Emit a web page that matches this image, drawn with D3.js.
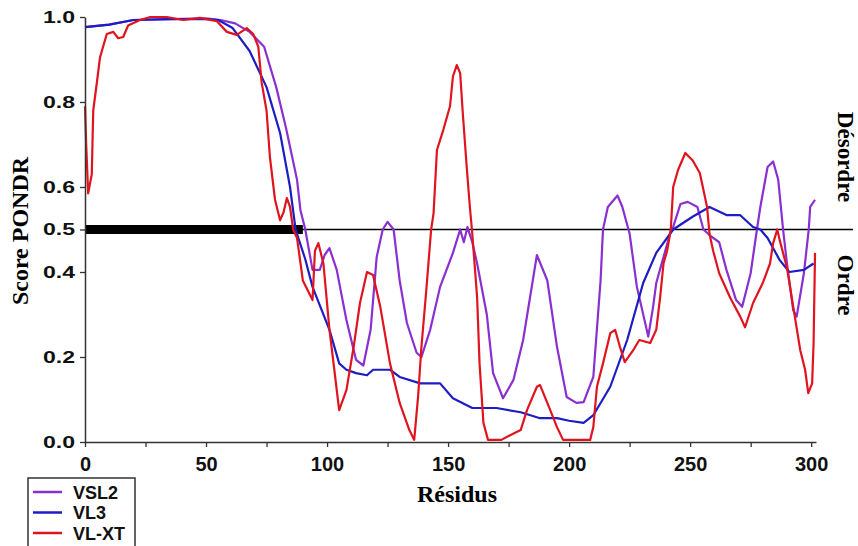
<!DOCTYPE html>
<html>
<head>
<meta charset="utf-8">
<script src="https://cdn.jsdelivr.net/npm/d3@7"></script>
<style>
  body { margin: 0; background: #fff; }
  svg { display: block; }
</style>
</head>
<body>
<div id="chart"></div>
<script>
// data: [residue, score]
const vsl2 = [[0,0.976],[10,0.982],[20,0.993],[35,0.995],[50,0.997],[56,0.993],[62,0.985],[68,0.965],[74,0.93],[79,0.835],[83,0.74],[87.6,0.617],[89,0.546],[91,0.5],[94,0.405],[97,0.405],[99,0.44],[101,0.456],[104,0.405],[108,0.287],[112,0.193],[115,0.18],[118,0.264],[120.5,0.435],[123,0.5],[125,0.518],[127.5,0.5],[130,0.38],[133,0.28],[137,0.21],[139,0.2],[142.6,0.264],[146.7,0.365],[152,0.445],[155,0.5],[156.5,0.47],[158,0.506],[160,0.47],[162,0.42],[166,0.3],[168.6,0.162],[172.7,0.103],[177,0.146],[181,0.24],[186.7,0.44],[191,0.38],[195,0.224],[199,0.106],[203,0.092],[206,0.094],[210,0.153],[213,0.38],[214,0.5],[216,0.553],[220,0.58],[222,0.553],[225,0.49],[228,0.365],[232.7,0.248],[234.7,0.318],[236,0.374],[239,0.435],[241.7,0.49],[243,0.506],[246,0.56],[249,0.565],[253,0.553],[255.5,0.5],[258,0.487],[262,0.47],[265,0.405],[269,0.334],[271.5,0.318],[275,0.397],[277.6,0.5],[279,0.553],[282,0.647],[284.3,0.66],[286.4,0.617],[288.4,0.5],[290,0.42],[292.6,0.31],[294,0.295],[297,0.397],[299,0.5],[299.6,0.553],[301.6,0.57]];

const vl3 = [[0,0.976],[10,0.982],[20,0.993],[35,0.995],[50,0.995],[55,0.993],[61,0.974],[68,0.92],[75,0.835],[80.6,0.727],[84.7,0.6],[87,0.5],[91,0.43],[94,0.365],[101,0.264],[105,0.185],[108,0.17],[112,0.162],[116.5,0.157],[119,0.17],[126,0.17],[130,0.153],[138.5,0.138],[146.7,0.138],[152,0.103],[160,0.08],[170,0.08],[180,0.07],[188,0.056],[195,0.056],[200,0.05],[206,0.045],[210,0.063],[217,0.13],[224,0.24],[230.6,0.374],[236,0.445],[243,0.5],[251,0.53],[258,0.553],[265,0.534],[270.6,0.534],[276,0.506],[279,0.5],[282,0.48],[287,0.428],[291,0.4],[297,0.405],[301,0.42]];

const vlxt = [[0,0.79],[0.5,0.7],[1.3,0.585],[2.8,0.63],[3.4,0.78],[5,0.85],[6.2,0.905],[9,0.96],[11.7,0.965],[13.7,0.95],[15.8,0.953],[17.8,0.98],[22.7,0.993],[27,1.0],[33.8,1.0],[40.5,0.993],[47.5,0.998],[54.5,0.99],[58.6,0.965],[62.7,0.958],[66.8,0.974],[69.5,0.96],[71.6,0.93],[73,0.845],[75,0.78],[76.4,0.67],[78.5,0.57],[80.6,0.522],[82,0.54],[83.4,0.574],[84.7,0.553],[86,0.5],[87.6,0.48],[90,0.38],[94,0.334],[95,0.45],[96.4,0.468],[98.5,0.42],[101,0.264],[103,0.17],[105,0.075],[108,0.122],[111,0.224],[113.6,0.327],[116.5,0.4],[119,0.393],[122,0.318],[126,0.185],[130,0.092],[134,0.028],[136,0.005],[137.6,0.106],[139,0.224],[141,0.357],[143,0.5],[144,0.538],[145.4,0.687],[148,0.734],[150.8,0.79],[152,0.86],[153.6,0.887],[155,0.868],[156,0.78],[157.7,0.647],[159,0.553],[160,0.49],[162,0.34],[163,0.185],[164.6,0.045],[166.5,0.005],[172,0.005],[175.6,0.016],[180,0.028],[182.6,0.075],[186.7,0.13],[188,0.134],[191,0.092],[195,0.035],[197.5,0.005],[208.7,0.005],[210,0.035],[211.5,0.13],[214,0.185],[217,0.256],[219,0.264],[221,0.224],[223,0.188],[226.5,0.216],[229,0.24],[233.5,0.233],[236,0.264],[237.6,0.34],[239,0.42],[240.5,0.45],[242,0.5],[243,0.6],[245,0.64],[248,0.68],[251,0.663],[254,0.633],[257,0.553],[258,0.49],[259.5,0.45],[262,0.397],[266.5,0.34],[270.7,0.295],[272.7,0.27],[276,0.327],[280,0.374],[283,0.42],[284.3,0.468],[286,0.5],[287,0.475],[290,0.41],[292.6,0.318],[295.5,0.216],[297.5,0.17],[298.8,0.115],[300.4,0.138],[301,0.233],[301.6,0.445]];

const seriesNames = ["VSL2", "VL3", "VL-XT"];
const seriesColors = ["#8a2fd0", "#1d1dc4", "#e0141e"];
const yTicks = [0, 0.2, 0.4, 0.5, 0.6, 0.8, 1.0];
const xMajor = [0, 50, 100, 150, 200, 250, 300];
const xMinor = [25, 75, 125, 175, 225, 275];
const threshold = 0.5;
const orderedSpan = [0, 90]; // thick bar on the threshold line

const W = 858, H = 546;
const margin = { top: 17, right: 42, bottom: 104, left: 85 };
const width = W - margin.left - margin.right;
const height = H - margin.top - margin.bottom;

const svg = d3.select("#chart").append("svg")
  .attr("width", W).attr("height", H);
const g = svg.append("g")
  .attr("transform", "translate(" + margin.left + "," + margin.top + ")");

const x = d3.scaleLinear().domain([0, 302]).range([0, width]);
const y = d3.scaleLinear().domain([0, 1]).range([height, 0]);

// threshold line + thick bar
g.append("line")
  .attr("x1", x(0)).attr("x2", W - margin.left - 5)
  .attr("y1", y(threshold)).attr("y2", y(threshold))
  .attr("stroke", "#000").attr("stroke-width", 1.4);
g.append("rect")
  .attr("x", x(orderedSpan[0]))
  .attr("width", x(orderedSpan[1]) - x(orderedSpan[0]))
  .attr("y", y(threshold) - 4.5).attr("height", 9)
  .attr("fill", "#000");

// curves
const line = d3.line().x(d => x(d[0])).y(d => y(d[1]));
[vsl2, vl3, vlxt].forEach((s, i) => {
  g.append("path")
    .datum(s)
    .attr("fill", "none")
    .attr("stroke", seriesColors[i])
    .attr("stroke-width", 2.2)
    .attr("stroke-linejoin", "round")
    .attr("d", line);
});

// axes
const xAxisMinor = d3.axisBottom(x).tickValues(xMinor).tickSize(5).tickFormat("");
const xAxis = d3.axisBottom(x).tickValues(xMajor).tickSize(5).tickSizeOuter(0).tickPadding(10);
const yAxis = d3.axisLeft(y).tickValues(yTicks).tickSize(5).tickSizeOuter(0)
  .tickPadding(5).tickFormat(d3.format(".1f"));

g.append("g").attr("transform", "translate(0," + height + ")").call(xAxisMinor)
  .call(a => a.select(".domain").remove());
const gx = g.append("g").attr("transform", "translate(0," + height + ")").call(xAxis);
gx.selectAll("text")
  .style("font-family", "'Liberation Sans', Arial, sans-serif")
  .style("font-weight", "bold").style("font-size", "20px").attr("fill", "#111");

const gy = g.append("g").call(yAxis);
gy.selectAll("text")
  .style("font-family", "'Liberation Sans', Arial, sans-serif")
  .style("font-weight", "bold").style("font-size", "16px").attr("fill", "#111")
  .attr("textLength", 32).attr("lengthAdjust", "spacingAndGlyphs");

g.selectAll(".domain").attr("stroke", "#333").attr("stroke-width", 1.5);
g.selectAll(".tick line").attr("stroke", "#333").attr("stroke-width", 1.3);

// titles
const serif = "'Liberation Serif', 'Times New Roman', serif";
svg.append("text")
  .attr("transform", "translate(20,231) rotate(-90)")
  .attr("text-anchor", "middle").attr("dy", "0.35em")
  .style("font-family", serif).style("font-weight", "bold").style("font-size", "24px")
  .text("Score PONDR");
svg.append("text")
  .attr("x", 457).attr("y", 502)
  .attr("text-anchor", "middle")
  .style("font-family", serif).style("font-weight", "bold").style("font-size", "24px")
  .text("Résidus");
svg.append("text")
  .attr("transform", "translate(845,157) rotate(90)")
  .attr("text-anchor", "middle").attr("dy", "0.3em")
  .style("font-family", serif).style("font-weight", "bold").style("font-size", "23px")
  .text("Désordre");
svg.append("text")
  .attr("transform", "translate(845,285) rotate(90)")
  .attr("text-anchor", "middle").attr("dy", "0.3em")
  .style("font-family", serif).style("font-weight", "bold").style("font-size", "23px")
  .text("Ordre");

// legend (box runs off the bottom edge like the source)
const legend = svg.append("g").attr("transform", "translate(28,478)");
legend.append("rect")
  .attr("width", 107).attr("height", 90)
  .attr("fill", "#fff").attr("stroke", "#333").attr("stroke-width", 1.5);
seriesNames.forEach((name, i) => {
  const cy = 14 + i * 20.5;
  legend.append("line")
    .attr("x1", 5).attr("x2", 34).attr("y1", cy).attr("y2", cy)
    .attr("stroke", seriesColors[i]).attr("stroke-width", 2.5);
  legend.append("text")
    .attr("x", 45).attr("y", cy + 6.5)
    .style("font-family", "'Liberation Sans', Arial, sans-serif")
    .style("font-weight", "bold").style("font-size", "18px")
    .attr("fill", "#111")
    .text(name);
});
</script>
</body>
</html>
